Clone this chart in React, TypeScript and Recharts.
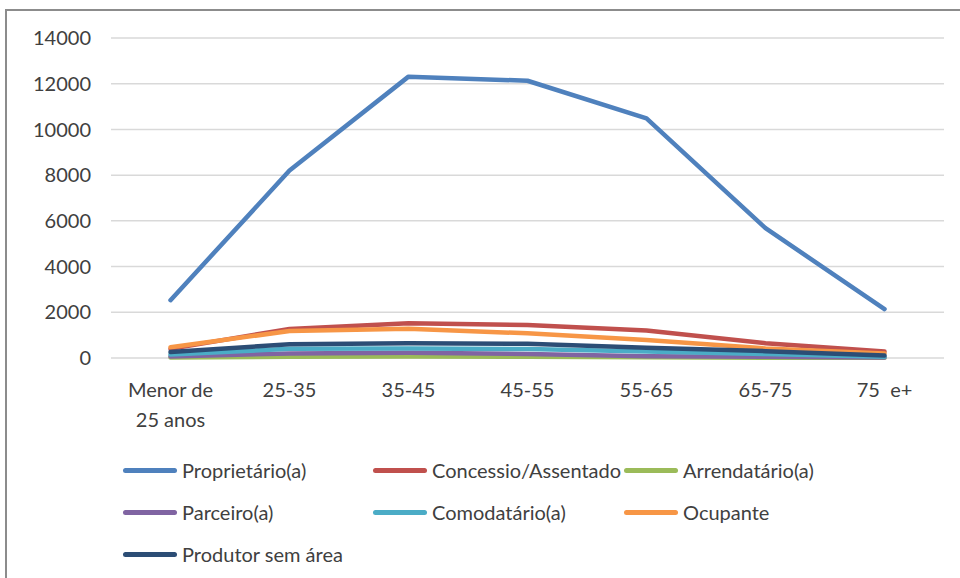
import { CartesianGrid, Line, LineChart, XAxis, YAxis } from "recharts"

const ageGroups = [
	"Menor de 25 anos",
	"25-35",
	"35-45",
	"45-55",
	"55-65",
	"65-75",
	"75  e+",
]

const proprietario = [2530, 8200, 12310, 12130, 10480, 5680, 2140]
const concessio = [400, 1270, 1520, 1445, 1200, 650, 280]
const arrendatario = [25, 50, 65, 50, 30, 15, 8]
const parceiro = [70, 200, 230, 175, 80, 50, 20]
const comodatario = [150, 400, 420, 390, 280, 170, 60]
const ocupante = [470, 1180, 1280, 1080, 790, 420, 200]
const produtorSemArea = [260, 600, 640, 625, 450, 300, 110]

const yTicks = [0, 2000, 4000, 6000, 8000, 10000, 12000, 14000]

const series = [
	{ key: "proprietario", label: "Proprietário(a)", color: "#4F81BD", values: proprietario },
	{ key: "concessio", label: "Concessio/Assentado", color: "#C0504D", values: concessio },
	{ key: "arrendatario", label: "Arrendatário(a)", color: "#9BBB59", values: arrendatario },
	{ key: "parceiro", label: "Parceiro(a)", color: "#8064A2", values: parceiro },
	{ key: "comodatario", label: "Comodatário(a)", color: "#4BACC6", values: comodatario },
	{ key: "ocupante", label: "Ocupante", color: "#F79646", values: ocupante },
	{ key: "produtor", label: "Produtor sem área", color: "#2C4D75", values: produtorSemArea },
]

const chartData = ageGroups.map((group, i) => {
	const row: Record<string, string | number> = { group }
	series.forEach((s) => {
		row[s.key] = s.values[i]
	})
	return row
})

const FONT = "Lato, 'Open Sans', sans-serif"
const TEXT = "#404040"

const AgeTick = ({ x, y, payload }: any) => {
	const words = String(payload.value)
	const lines = words === "Menor de 25 anos" ? ["Menor de", "25 anos"] : [words]
	return (
		<text
			x={x}
			y={y}
			textAnchor='middle'
			fill={TEXT}
			fontSize={20}
			fontFamily={FONT}
			style={{ whiteSpace: "pre" }}
		>
			{lines.map((line, i) => (
				<tspan key={i} x={x} dy={i === 0 ? "0.71em" : 30}>
					{line}
				</tspan>
			))}
		</text>
	)
}

export default function App() {
	return (
		<div
			style={{
				position: "fixed",
				inset: 0,
				overflow: "hidden",
				background: "#ffffff",
			}}
		>
			<div
				style={{
					position: "absolute",
					left: 5,
					top: 9,
					width: 1000,
					height: 1000,
					border: "2px solid #8c8c8c",
				}}
			/>
			<div style={{ position: "absolute", left: 0, top: 0 }}>
				<LineChart
					width={960}
					height={440}
					data={chartData}
					margin={{ top: 38, right: 16, bottom: 0, left: 0 }}
				>
					<CartesianGrid vertical={false} stroke='#d9d9d9' strokeWidth={1.5} />
					<XAxis
						dataKey='group'
						axisLine={false}
						tickLine={false}
						height={82}
						tickSize={0}
						tickMargin={25}
						interval={0}
						padding={{ left: 59.5, right: 59.5 }}
						tick={<AgeTick />}
					/>
					<YAxis
						domain={[0, 14000]}
						ticks={yTicks}
						width={111}
						axisLine={false}
						tickLine={false}
						tickSize={0}
						tickMargin={20}
						tick={{ fill: TEXT, fontSize: 20, fontFamily: FONT }}
					/>
					{series.map((s) => (
						<Line
							key={s.key}
							dataKey={s.key}
							name={s.label}
							type='linear'
							stroke={s.color}
							strokeWidth={4.5}
							strokeLinecap='round'
							strokeLinejoin='round'
							dot={false}
							activeDot={false}
							isAnimationActive={false}
						/>
					))}
				</LineChart>
			</div>
			<div
				style={{
					position: "absolute",
					left: 123,
					top: 449,
					display: "grid",
					gridTemplateColumns: "250px 251px 250px",
					gridAutoRows: "42px",
					fontFamily: FONT,
					fontSize: 20,
					color: TEXT,
				}}
			>
				{series.map((s) => (
					<div
						key={s.key}
						style={{ display: "flex", alignItems: "center", whiteSpace: "nowrap" }}
					>
						<span
							style={{
								display: "inline-block",
								width: 54,
								height: 5,
								borderRadius: 3,
								background: s.color,
								marginRight: 5,
							}}
						/>
						{s.label}
					</div>
				))}
			</div>
		</div>
	)
}
